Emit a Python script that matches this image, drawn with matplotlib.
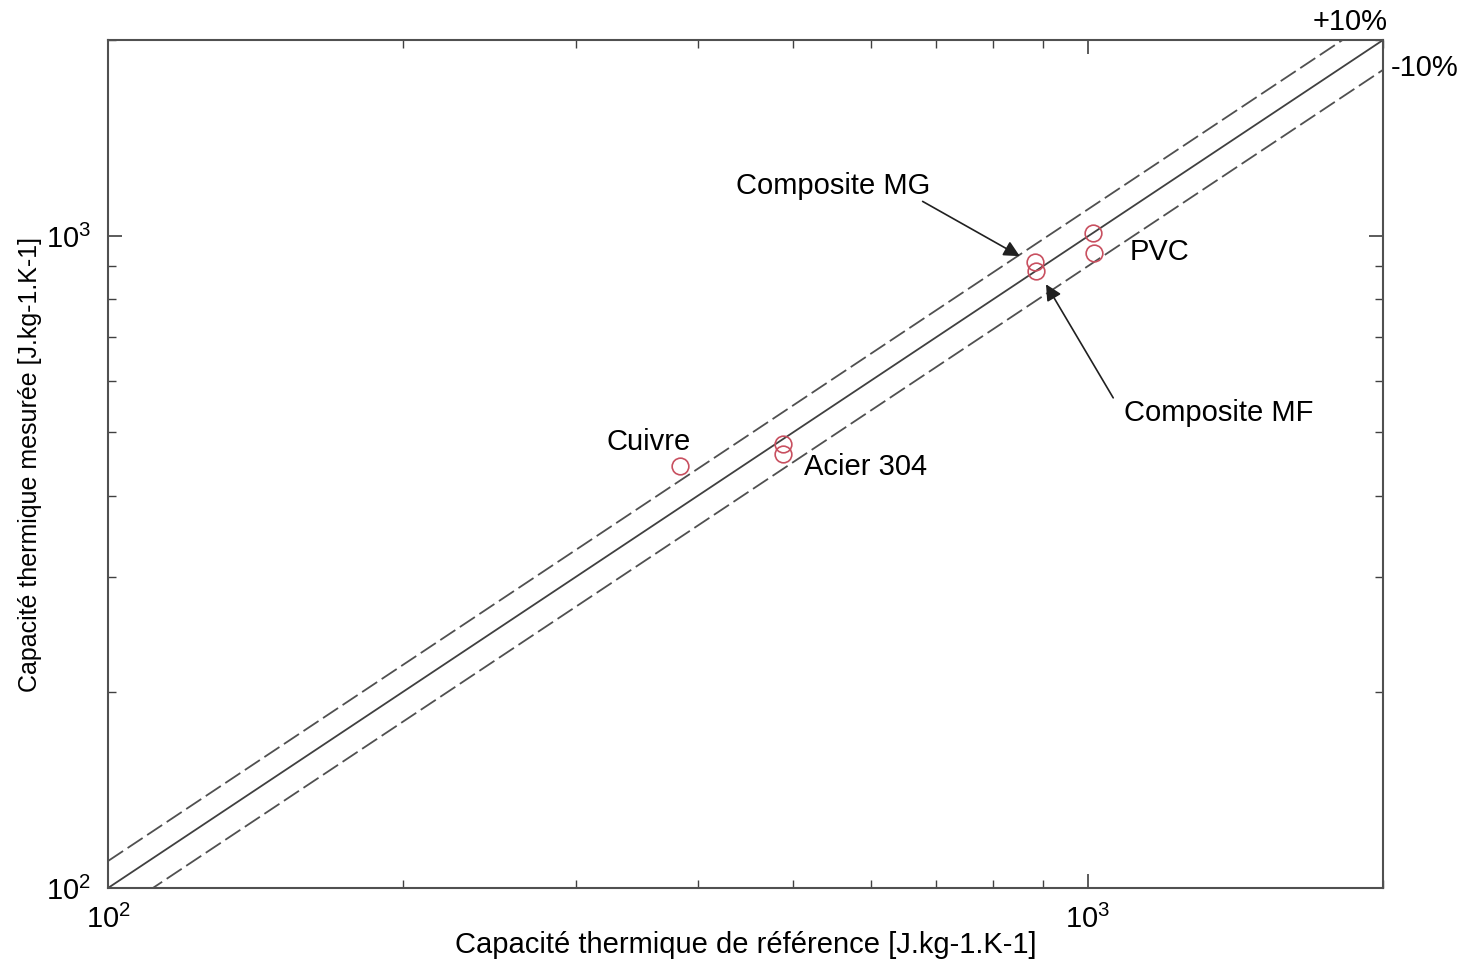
import matplotlib
matplotlib.use('Agg')
import matplotlib.pyplot as plt
import numpy as np

plt.rcParams['font.family'] = ['Liberation Sans', 'DejaVu Sans']

# reference vs measured heat capacity [J.kg-1.K-1]
materials = ['Cuivre', 'Acier 304', 'Acier 304', 'Composite MG', 'Composite MF', 'PVC', 'PVC']
cp_ref = [383, 488, 488, 883, 886, 1012, 1014]
cp_mes = [444, 480, 464, 912, 884, 1011, 942]

line_x = [100, 2000]
tolerance = 0.10

fig = plt.figure(figsize=(14.76, 9.65), dpi=100)
ax = fig.add_axes([0.0732, 0.0798, 0.8638, 0.8787])

ax.set_xscale('log')
ax.set_yscale('log')
ax.set_xlim(100, 2000)
ax.set_ylim(100, 2000)

lx = np.array(line_x, dtype=float)
ax.plot(lx, lx, color='#404040', lw=1.3)
ax.plot(lx, lx * (1 + tolerance), color='#505050', lw=1.3, dashes=(10, 3))
ax.plot(lx, lx * (1 - tolerance), color='#505050', lw=1.3, dashes=(10, 3))

ax.plot(cp_ref, cp_mes, 'o', mfc='none', mec='#c85060', ms=12, mew=1.2)

fs = 21
ax.text(356, 484, 'Cuivre', fontsize=fs, ha='center', va='center')
ax.text(513, 443, 'Acier 304', fontsize=fs, ha='left', va='center')
ax.text(1104, 945, 'PVC', fontsize=fs, ha='left', va='center')
ax.text(550, 1193, 'Composite MG', fontsize=fs, ha='center', va='center')
ax.text(1359, 536, 'Composite MF', fontsize=fs, ha='center', va='center')

arrow = dict(arrowstyle='-|>', color='#202020', lw=1.2,
             mutation_scale=24, shrinkA=0, shrinkB=0)
ax.annotate('', xy=(852, 932), xytext=(678, 1131), arrowprops=arrow)
ax.annotate('', xy=(906, 844), xytext=(1061, 565), arrowprops=arrow)

fig.text(1350 / 1476, 1 - 22 / 965, '+10%', fontsize=fs, ha='center', va='center')
fig.text(1425 / 1476, 1 - 68 / 965, '-10%', fontsize=fs, ha='center', va='center')

ax.set_xlabel('Capacité thermique de référence [J.kg-1.K-1]', fontsize=fs, va='center')
ax.set_ylabel('Capacité thermique mesurée [J.kg-1.K-1]', fontsize=18, va='center')
ax.xaxis.set_label_coords(0.5, -0.067)
ax.yaxis.set_label_coords(-0.061, 0.5)

ax.tick_params(which='both', direction='in', top=True, right=True, labelsize=fs,
               color='#404040')
ax.tick_params(which='major', length=10, width=1.2)
ax.tick_params(which='minor', length=6, width=1.0)
ax.tick_params(axis='y', pad=12)
ax.tick_params(axis='x', pad=12)
ax.minorticks_on()
for sp in ax.spines.values():
    sp.set_color('#505050')
    sp.set_linewidth(1.5)

fig.savefig('out.png', dpi=100)
